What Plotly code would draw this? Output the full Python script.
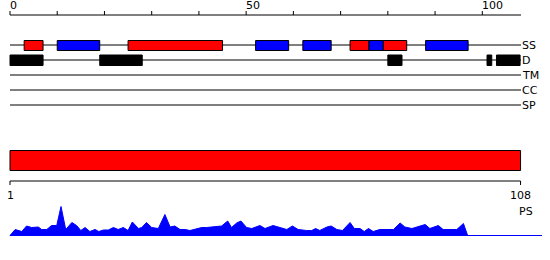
import plotly.graph_objects as go

# ---------------- data ----------------
seq_len = 108
top_ticks = [0, 10, 20, 30, 40, 50, 60, 70, 80, 90, 100]
top_tick_labels = {0: "0", 50: "50", 100: "100"}

track_names = ["SS", "D", "TM", "CC", "SP"]

ss_helix = [(3, 7), (25, 45), (72, 76), (79, 84)]          # red
ss_strand = [(10, 19), (52, 59), (62, 68), (76, 79), (88, 97)]  # blue
disorder = [(0, 7), (19, 28), (80, 83), (101, 102), (103, 108)]  # black

ps_region = (1, 108)
bottom_ticks = [1, 108]

profile_pos = [0.0, 1.1, 2.5, 3.5, 4.6, 6.0, 6.7, 7.8, 8.8, 9.9, 10.8, 11.8, 13.1, 14.1,
               15.0, 15.9, 16.9, 18.0, 18.8, 19.8, 20.8, 21.9, 22.9, 24.0, 25.0, 25.9,
               27.2, 27.9, 28.9, 30.0, 31.4, 32.8, 33.9, 34.9, 36.0, 37.1, 38.1, 39.5,
               40.6, 41.6, 42.7, 44.8, 46.1, 46.9, 48.0, 48.9, 50.1, 51.2, 52.9, 54.0,
               55.7, 57.2, 58.6, 59.8, 61.0, 62.8, 63.9, 64.7, 65.6, 67.1, 68.0, 69.2,
               70.4, 72.0, 72.9, 74.1, 75.0, 75.9, 76.9, 78.3, 80.1, 81.2, 82.6, 83.6,
               85.1, 86.4, 87.9, 88.9, 90.7, 91.7, 93.2, 94.6, 96.0, 96.9, 112.6]
profile_val = [0, 6, 4, 9.5, 8, 8.5, 6, 6, 10, 10, 29, 6, 13, 10,
               5, 8, 4, 6, 4, 5.5, 5.5, 8, 6, 8, 5, 13.5,
               7, 8, 13, 8, 7, 21, 8.5, 9.5, 6, 6, 5, 7,
               8, 8, 8.5, 9.5, 14.5, 8, 12.5, 14.5, 8, 7, 10, 7,
               10, 8, 6, 9.5, 6, 5, 5, 7, 5, 8.5, 9.5, 6,
               5, 13, 7, 7, 4, 7, 4, 6, 6, 6, 12.5, 8.5,
               7, 8.5, 11, 7, 10, 6, 6, 6, 12, 0, 0]

# ---------------- layout helpers ----------------
W, H = 550, 260
PX_PER_UNIT = 4.723
X0PX = 10.0
xr = [-X0PX / PX_PER_UNIT, (W - X0PX) / PX_PER_UNIT]


def Y(ypx):
    """pixel row (from top) -> y data value (y axis range is [0, H])"""
    return H - ypx


axis_y = 15
track_y = {"SS": 45, "D": 60, "TM": 75, "CC": 90, "SP": 105}
line_end = 108.2
ps_y0, ps_y1 = 150.5, 170.5
bot_axis_y = 181
area_base = 235.5

FONT = dict(family="DejaVu Sans", size=11, color="black")


def res_to_u(r):
    return (r - 1) * (108.1 / 107)


shapes = []
annotations = []

# top axis
shapes.append(dict(type="line", x0=0, x1=line_end, y0=Y(axis_y), y1=Y(axis_y),
                   line=dict(color="black", width=1)))
for t in top_ticks:
    shapes.append(dict(type="line", x0=t, x1=t, y0=Y(axis_y - 4), y1=Y(axis_y),
                       line=dict(color="black", width=1)))
    if t in top_tick_labels:
        annotations.append(dict(x=t, y=Y(5), text=top_tick_labels[t], showarrow=False,
                                xanchor="left", yanchor="middle", xshift=-2, font=FONT))

# track lines + labels
for name in track_names:
    y = track_y[name]
    shapes.append(dict(type="line", x0=0, x1=line_end, y0=Y(y), y1=Y(y),
                       line=dict(color="black", width=1), layer="below"))
    annotations.append(dict(x=line_end, y=Y(y), text=name, showarrow=False,
                            xanchor="left", yanchor="middle", xshift=-1, font=FONT))

# SS boxes
for (a, b) in ss_helix:
    shapes.append(dict(type="rect", x0=a, x1=b, y0=Y(40.5), y1=Y(50.5),
                       fillcolor="#ff0000", line=dict(color="black", width=1)))
for (a, b) in ss_strand:
    shapes.append(dict(type="rect", x0=a, x1=b, y0=Y(40.5), y1=Y(50.5),
                       fillcolor="#0000ff", line=dict(color="black", width=1)))
# disorder boxes
for (a, b) in disorder:
    shapes.append(dict(type="rect", x0=a, x1=b, y0=Y(55), y1=Y(65.5),
                       fillcolor="black", line=dict(color="black", width=1)))

# PS bar
shapes.append(dict(type="rect", x0=res_to_u(ps_region[0]), x1=res_to_u(ps_region[1]),
                   y0=Y(ps_y0), y1=Y(ps_y1), fillcolor="#ff0000",
                   line=dict(color="black", width=1)))

# bottom axis
shapes.append(dict(type="line", x0=res_to_u(bottom_ticks[0]), x1=res_to_u(bottom_ticks[-1]),
                   y0=Y(bot_axis_y), y1=Y(bot_axis_y), line=dict(color="black", width=1)))
for t in bottom_ticks:
    shapes.append(dict(type="line", x0=res_to_u(t), x1=res_to_u(t), y0=Y(bot_axis_y),
                       y1=Y(bot_axis_y + 4), line=dict(color="black", width=1)))
    annotations.append(dict(x=res_to_u(t), y=Y(195), text=str(t), showarrow=False,
                            xanchor="center", yanchor="middle", font=FONT))
annotations.append(dict(x=res_to_u(bottom_ticks[-1]), y=Y(211), text="PS", showarrow=False,
                        xanchor="center", yanchor="middle", xshift=5, font=FONT))

base_y = Y(area_base)
fig = go.Figure()
fig.add_trace(go.Scatter(x=[profile_pos[0], profile_pos[-1]], y=[base_y, base_y],
                         mode="lines", line=dict(color="#0000ff", width=1),
                         hoverinfo="skip", showlegend=False))
fig.add_trace(go.Scatter(x=profile_pos, y=[base_y + v for v in profile_val], mode="lines",
                         fill="tonexty", fillcolor="#0000ff",
                         line=dict(color="#0000ff", width=1),
                         hoverinfo="skip", showlegend=False))

fig.update_layout(
    width=W, height=H,
    margin=dict(l=0, r=0, t=0, b=0),
    paper_bgcolor="white", plot_bgcolor="white",
    showlegend=False,
    xaxis=dict(range=xr, autorange=False, visible=False, fixedrange=True),
    yaxis=dict(range=[0, H], autorange=False, visible=False, fixedrange=True),
    shapes=shapes,
    annotations=annotations,
)

fig.write_html("out.html")
